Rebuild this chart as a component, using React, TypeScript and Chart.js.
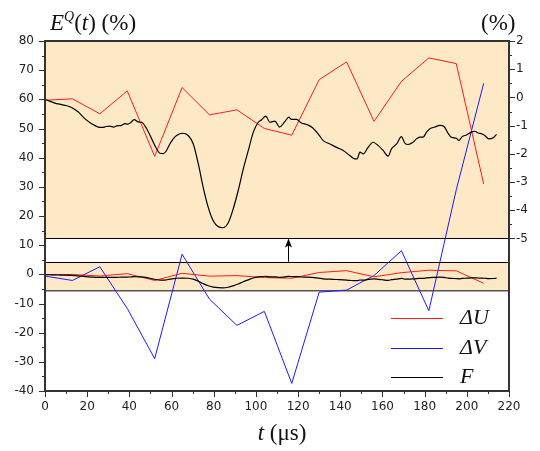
import React, { useEffect, useRef } from 'react';
import { Chart, registerables } from 'chart.js';

Chart.register(...registerables);

// ---- data ----
const tUV = [0, 13, 26, 39, 52, 65, 78, 91, 104, 117, 130, 143, 156, 169, 182, 195, 208];
const deltaU = [-0.10, -0.05, -0.58, 0.23, -2.09, 0.35, -0.62, -0.44, -1.10, -1.34, 0.63, 1.26, -0.85, 0.57, 1.40, 1.20, -3.07];
const deltaV = [-0.6, -2.1, 2.6, -11.7, -28.9, 6.9, -8.5, -17.5, -12.7, -37.4, -6.1, -5.4, -0.4, 8.1, -12.5, 29.0, 65.5];

const fTimes = [
  0, 2.5, 4.7, 7, 9.5, 12.6, 15.8, 19, 22.1, 25.3, 27.6, 29, 30.8, 32.5, 34, 36.3, 37.9, 39, 40.3, 42.3,
  44.2, 45.8, 48.2, 50.6, 52.9, 54.5, 56.1, 57.5, 59.2, 61, 62.4, 65.2, 67.9, 70.3, 72.7, 75, 77.4, 79.8,
  82.1, 84.3, 86.9, 89.2, 91.6, 94, 96.4, 98.7, 101.1, 102.7, 104.7, 106.6, 109, 111.2, 113.7, 115.6,
  116.9, 119.3, 121.6, 124, 126.4, 129.5, 131.9, 135.1, 138.2, 141.4, 144.5, 146.9, 148, 149.3, 150.9,
  153.2, 155.6, 158, 160.3, 162.7, 164.3, 166.7, 169, 170.6, 172.2, 174.5, 176.1, 177.7, 179.3, 180.9,
  182.5, 184.8, 187.2, 189.2, 191.1, 192.7, 195.1, 196.2, 197.8, 199.9, 202.2, 203.8, 205.4, 207, 208.5,
  210.4, 212.5, 214.1,
];
const fValues = [
  -0.07, -0.14, -0.20, -0.24, -0.28, -0.36, -0.52, -0.76, -0.93, -1.05, -1.06, -1.03, -1.02, -1.05, -1.01,
  -0.99, -0.93, -0.95, -0.91, -0.79, -0.87, -0.88, -1.11, -1.47, -1.82, -1.98, -1.99, -1.90, -1.65, -1.45,
  -1.35, -1.27, -1.35, -1.65, -2.36, -3.19, -3.90, -4.38, -4.58, -4.62, -4.44, -3.96, -3.30, -2.54, -1.88,
  -1.25, -0.88, -0.79, -0.66, -0.88, -0.84, -1.05, -0.86, -0.70, -0.78, -0.78, -0.91, -0.96, -1.05, -1.29,
  -1.53, -1.65, -1.77, -1.88, -2.06, -2.18, -2.18, -1.94, -2.00, -1.77, -1.59, -1.71, -1.88, -2.08, -1.82,
  -1.65, -1.39, -1.62, -1.67, -1.59, -1.47, -1.41, -1.41, -1.23, -1.11, -1.05, -0.99, -1.03, -1.27, -1.41,
  -1.45, -1.53, -1.39, -1.33, -1.23, -1.20, -1.26, -1.29, -1.35, -1.47, -1.43, -1.31,
];

const leftTicks = [-40, -30, -20, -10, 0, 10, 20, 30, 40, 50, 60, 70, 80];
const rightTicks = [-5, -4, -3, -2, -1, 0, 1, 2];
const xTicks = [0, 20, 40, 60, 80, 100, 120, 140, 160, 180, 200, 220];

// ---- layout constants ----
const X_MIN = 0, X_MAX = 220;
const Y_MIN = -40, Y_MAX = 80;
const R_MIN = -5, R_MAX = 2;
const INSET_BOTTOM = 12.3; // left-axis value of the inset's lower edge
const BAND_TOP = 4.3;
const BAND_BOTTOM = -5.6;
const ARROW_T = 115;
const R_AXIS_MIN = R_MIN - (INSET_BOTTOM - Y_MIN) * (R_MAX - R_MIN) / (Y_MAX - INSET_BOTTOM);

const ORANGE = '#FDE9C6';
const AXIS = '#333333';
const RED = '#FF1A1A';
const BLUE = '#1A1AFF';
const SERIF = '"Liberation Serif", "DejaVu Serif", serif';

function drawRich(ctx: CanvasRenderingContext2D, parts: { t: string; italic?: boolean; size: number; dy?: number }[], x: number, y: number) {
  let cx = x;
  for (const p of parts) {
    ctx.font = `${p.italic ? 'italic ' : ''}${p.size}px ${SERIF}`;
    ctx.fillText(p.t, cx, y + (p.dy || 0));
    cx += ctx.measureText(p.t).width;
  }
  return cx;
}

function richWidth(ctx: CanvasRenderingContext2D, parts: { t: string; italic?: boolean; size: number }[]) {
  let w = 0;
  for (const p of parts) {
    ctx.font = `${p.italic ? 'italic ' : ''}${p.size}px ${SERIF}`;
    w += ctx.measureText(p.t).width;
  }
  return w;
}

const decor = {
  id: 'decor',
  beforeDatasetsDraw(chart: any) {
    const { ctx, chartArea: a, scales } = chart;
    const y = scales.y;
    const w = a.right - a.left;
    ctx.save();
    ctx.fillStyle = ORANGE;
    const yi = y.getPixelForValue(INSET_BOTTOM);
    ctx.fillRect(a.left, a.top, w, yi - a.top);
    const yb1 = y.getPixelForValue(BAND_TOP);
    const yb2 = y.getPixelForValue(BAND_BOTTOM);
    ctx.fillRect(a.left, yb1, w, yb2 - yb1);

    ctx.lineWidth = 1;
    ctx.strokeStyle = '#000';
    for (const v of [INSET_BOTTOM, BAND_TOP]) {
      const p = Math.round(y.getPixelForValue(v)) + 0.5;
      ctx.beginPath();
      ctx.moveTo(a.left, p);
      ctx.lineTo(a.right, p);
      ctx.stroke();
    }
    ctx.strokeStyle = '#555';
    ctx.lineWidth = 1.5;
    ctx.beginPath();
    ctx.moveTo(a.left, yb2);
    ctx.lineTo(a.right, yb2);
    ctx.stroke();

    // arrow
    const ax = Math.round(scales.x.getPixelForValue(ARROW_T)) + 0.5;
    ctx.strokeStyle = '#000';
    ctx.fillStyle = '#000';
    ctx.lineWidth = 1;
    ctx.beginPath();
    ctx.moveTo(ax, yb1);
    ctx.lineTo(ax, yi + 6);
    ctx.stroke();
    ctx.beginPath();
    ctx.moveTo(ax, yi);
    ctx.lineTo(ax - 3.5, yi + 9);
    ctx.lineTo(ax, yi + 7);
    ctx.lineTo(ax + 3.5, yi + 9);
    ctx.closePath();
    ctx.fill();
    ctx.restore();
  },
  afterDatasetsDraw(chart: any) {
    const { ctx, chartArea: a, scales } = chart;
    const { x, y, y2 } = scales;
    ctx.save();
    // border
    ctx.strokeStyle = AXIS;
    ctx.lineWidth = 2;
    ctx.strokeRect(a.left, a.top, a.right - a.left, a.bottom - a.top);

    // ticks
    ctx.lineWidth = 1;
    ctx.strokeStyle = AXIS;
    ctx.beginPath();
    for (let v = Y_MIN; v <= Y_MAX; v += 5) {
      const p = Math.round(y.getPixelForValue(v)) + 0.5;
      const len = v % 10 === 0 ? 6 : 3;
      ctx.moveTo(a.left - len, p);
      ctx.lineTo(a.left, p);
    }
    for (let v = X_MIN; v <= X_MAX; v += 10) {
      const p = Math.round(x.getPixelForValue(v)) + 0.5;
      const len = v % 20 === 0 ? 6 : 3;
      ctx.moveTo(p, a.bottom);
      ctx.lineTo(p, a.bottom + len);
    }
    for (let v = R_MIN; v <= R_MAX + 1e-9; v += 0.5) {
      const p = Math.round(y2.getPixelForValue(v)) + 0.5;
      const len = Number.isInteger(v) ? 6 : 3;
      ctx.moveTo(a.right, p);
      ctx.lineTo(a.right + len, p);
    }
    ctx.stroke();

    // legend
    const legend = [
      { label: 'ΔU', color: RED, y: 318.5 },
      { label: 'ΔV', color: BLUE, y: 348.5 },
      { label: 'F', color: '#000', y: 377.5 },
    ];
    ctx.textBaseline = 'alphabetic';
    ctx.textAlign = 'left';
    for (const it of legend) {
      ctx.strokeStyle = it.color;
      ctx.lineWidth = 1;
      ctx.beginPath();
      ctx.moveTo(391, it.y);
      ctx.lineTo(443, it.y);
      ctx.stroke();
      ctx.fillStyle = '#111';
      ctx.font = `italic 22px ${SERIF}`;
      ctx.fillText(it.label, 460, it.y + 5);
    }

    // titles
    ctx.fillStyle = '#111';
    drawRich(ctx, [
      { t: 'E', italic: true, size: 23 },
      { t: 'Q', italic: true, size: 14, dy: -9 },
      { t: '(', size: 23 },
      { t: 't', italic: true, size: 23 },
      { t: ')', size: 23 },
      { t: ' (%)', size: 23 },
    ], 50, 30);
    drawRich(ctx, [{ t: '(%)', size: 23 }], 481, 30);
    const xt = [
      { t: 't', italic: true, size: 23 },
      { t: ' (μs)', size: 23 },
    ];
    const wx = richWidth(ctx, xt);
    drawRich(ctx, xt, 282 - wx / 2, 440);
    ctx.restore();
  },
};

export default function App() {
  const ref = useRef<HTMLCanvasElement>(null);
  useEffect(() => {
    const canvas = ref.current;
    if (!canvas) return;
    const fPts = fTimes.map((t, i) => ({ x: t, y: fValues[i] }));
    const uPts = tUV.map((t, i) => ({ x: t, y: deltaU[i] }));
    const vPts = tUV.map((t, i) => ({ x: t, y: deltaV[i] }));
    const tickFont = { family: '"DejaVu Sans", sans-serif', size: 12 };
    const chart = new Chart(canvas, {
      type: 'line',
      data: {
        datasets: [
          { label: 'F (band)', data: fPts, yAxisID: 'y', borderColor: '#000', borderWidth: 1.2, pointRadius: 0, cubicInterpolationMode: 'monotone' },
          { label: 'ΔU (band)', data: uPts, yAxisID: 'y', borderColor: RED, borderWidth: 1, pointRadius: 0, tension: 0 },
          { label: 'F', data: fPts, yAxisID: 'y2', borderColor: '#000', borderWidth: 1.2, pointRadius: 0, cubicInterpolationMode: 'monotone' },
          { label: 'ΔU', data: uPts, yAxisID: 'y2', borderColor: RED, borderWidth: 1, pointRadius: 0, tension: 0 },
          { label: 'ΔV', data: vPts, yAxisID: 'y', borderColor: BLUE, borderWidth: 1, pointRadius: 0, tension: 0 },
        ],
      },
      options: {
        responsive: false,
        animation: false,
        devicePixelRatio: 1,
        events: [],
        layout: { padding: { top: 41, left: 0, right: 0, bottom: 0 } },
        plugins: { legend: { display: false }, tooltip: { enabled: false } },
        scales: {
          x: {
            type: 'linear',
            min: X_MIN,
            max: X_MAX,
            grid: { display: false, drawTicks: false },
            border: { display: false },
            afterBuildTicks: (s: any) => { s.ticks = xTicks.map((v) => ({ value: v })); },
            afterFit: (s: any) => { s.height = 60; },
            ticks: { autoSkip: false, maxRotation: 0, padding: 9, color: '#222', font: tickFont, callback: (v: any) => String(v) },
          },
          y: {
            type: 'linear',
            position: 'left',
            min: Y_MIN,
            max: Y_MAX,
            grid: { display: false, drawTicks: false },
            border: { display: false },
            afterBuildTicks: (s: any) => { s.ticks = leftTicks.map((v) => ({ value: v })); },
            afterFit: (s: any) => { s.width = 45; },
            ticks: { autoSkip: false, padding: 11, color: '#222', font: tickFont, callback: (v: any) => String(v) },
          },
          y2: {
            type: 'linear',
            position: 'right',
            min: R_AXIS_MIN,
            max: R_MAX,
            grid: { display: false, drawTicks: false },
            border: { display: false },
            afterBuildTicks: (s: any) => { s.ticks = rightTicks.map((v) => ({ value: v })); },
            afterFit: (s: any) => { s.width = 31; },
            ticks: { autoSkip: false, padding: 7, color: '#222', font: tickFont, callback: (v: any) => String(v) },
          },
        },
      },
      plugins: [decor],
    } as any);
    return () => chart.destroy();
  }, []);
  return (
    <div style={{ position: 'fixed', left: 0, top: 0, width: 540, height: 451, background: '#fff' }}>
      <canvas ref={ref} width={540} height={451} style={{ display: 'block', width: 540, height: 451 }} />
    </div>
  );
}
